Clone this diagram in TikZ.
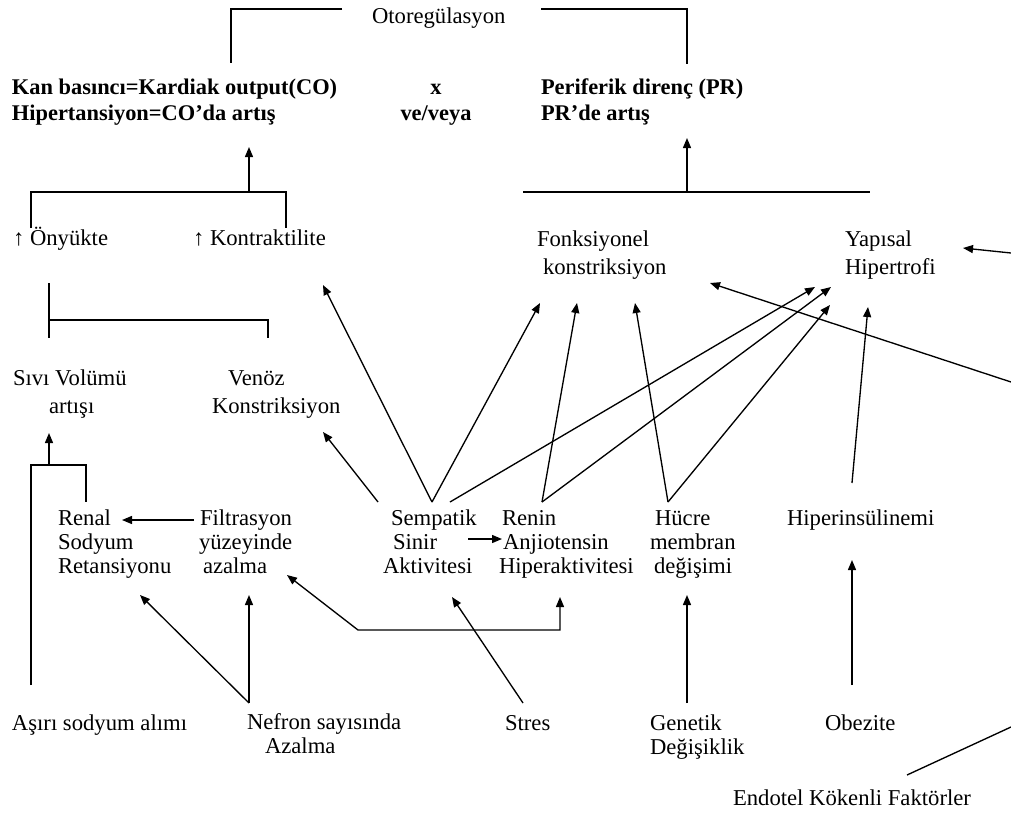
\documentclass[tikz,border=0pt]{standalone}
\usepackage{fontspec}
\setmainfont{Liberation Serif}
\usetikzlibrary{arrows.meta}
\newdimen\pxunit \pxunit=0.75pt
\newcommand{\ind}[1]{\hspace*{#1\pxunit}}
\tikzset{
  txt/.style={inner sep=0pt, outer sep=0pt, anchor=base west, align=left,
    font=\fontsize{17}{18}\selectfont},
  boldtxt/.style={txt, font=\fontsize{16.8}{19.5}\selectfont\bfseries},
  conn/.style={line width=1pt, line join=miter},
  arr/.style={conn, -{Triangle[length=7.5pt,width=6pt]}},
  darr/.style={conn, {Triangle[length=7.5pt,width=6pt]}-{Triangle[length=7.5pt,width=6pt]}},
}
\begin{document}
\begin{tikzpicture}[x=0.75pt, y=-0.75pt]
\useasboundingbox[fill=white] (0,0) rectangle (1011,815);

% ---- text nodes (multi-line nodes are placed by the baseline of their last line) ----
\node[txt] (oto) at (372,23) {Otoregülasyon};
\node[boldtxt] (kan) at (12,120) {Kan basıncı=Kardiak output(CO)\\Hipertansiyon=CO’da artış};
\node[boldtxt, align=center, anchor=base] (xv) at (436,120) {x\\ve/veya};
\node[boldtxt] (per) at (541,120) {Periferik direnç (PR)\\PR’de artış};
\node[txt] (ony) at (13,245) {↑ Önyükte};
\node[txt] (kont) at (193,245) {↑ Kontraktilite};
\node[txt, font=\fontsize{17}{20.3}\selectfont] (fonk) at (537,274) {Fonksiyonel\\\ind{6}konstriksiyon};
\node[txt, font=\fontsize{17}{20.3}\selectfont] (yap) at (845,274) {Yapısal\\Hipertrofi};
\node[txt, font=\fontsize{17}{21}\selectfont] (siv) at (13,413) {Sıvı Volümü\\\ind{36}artışı};
\node[txt, font=\fontsize{17}{21}\selectfont] (ven) at (212,413) {\ind{16}Venöz\\Konstriksiyon};
\node[txt] (ren) at (58,573) {Renal\\Sodyum\\Retansiyonu};
\node[txt] (filt) at (199,573) {\ind{1}Filtrasyon\\yüzeyinde\\\ind{4}azalma};
\node[txt] (semp) at (383,573) {\ind{8}Sempatik\\\ind{10}Sinir\\Aktivitesi};
\node[txt] (renin) at (499,573) {\ind{3}Renin\\\ind{4}Anjiotensin\\Hiperaktivitesi};
\node[txt] (hucre) at (650,573) {\ind{5}Hücre\\membran\\\ind{4}değişimi};
\node[txt] (hins) at (787,525) {Hiperinsülinemi};
\node[txt] (asiri) at (12,730) {Aşırı sodyum alımı};
\node[txt, font=\fontsize{17}{17.3}\selectfont] (nef) at (247,753) {Nefron sayısında\\\ind{18}Azalma};
\node[txt] (stres) at (505,730) {Stres};
\node[txt] (gen) at (650,754) {Genetik\\Değişiklik};
\node[txt] (obez) at (825,730) {Obezite};
\node[txt] (endo) at (733,805) {Endotel Kökenli Faktörler};

% ---- connector end points ----
\coordinate (otoL) at (342,9);   \coordinate (otoLc) at (231,9);  \coordinate (kanT) at (231,63);
\coordinate (otoR) at (541,9);   \coordinate (otoRc) at (687,9);  \coordinate (perT) at (687,64);
\coordinate (onyT) at (31,228);  \coordinate (onyC) at (31,192);
\coordinate (kontC) at (286,192); \coordinate (kontT) at (286,228);
\coordinate (coJ) at (249,192);  \coordinate (kanB) at (249,147);
\coordinate (prL) at (523,192);  \coordinate (prR) at (870,192);
\coordinate (prJ) at (687,192);  \coordinate (perB) at (687,138);
\coordinate (onyB) at (49,283);  \coordinate (sivT) at (49,338);
\coordinate (brJ) at (49,320);   \coordinate (brC) at (268,320);  \coordinate (venT) at (268,338);
\coordinate (asiriT) at (31,685); \coordinate (asiriC) at (31,465);
\coordinate (sivJ) at (49,465);  \coordinate (sivB) at (49,433);
\coordinate (renC) at (86,465);  \coordinate (renT) at (86,502);
\coordinate (filtL) at (194,520); \coordinate (renR) at (122,520);
\coordinate (nefT) at (249,703); \coordinate (filtB) at (249,595); \coordinate (renB) at (140,595);
\coordinate (filtBR) at (287,575); \coordinate (lnkA) at (358,630); \coordinate (lnkB) at (560,630); \coordinate (reninB) at (560,597);
\coordinate (stresT) at (523,703); \coordinate (sempB) at (452,597);
\coordinate (sempTL) at (378,502); \coordinate (venBR) at (323,432);
\coordinate (sempT) at (432,502);  \coordinate (kontB) at (323,285);
\coordinate (fonkB1) at (540,303);
\coordinate (sempTR) at (450,502); \coordinate (yapB1) at (815,287);
\coordinate (sempR) at (468,539);  \coordinate (reninL) at (502,539);
\coordinate (reninT) at (542,502); \coordinate (fonkB2) at (577,303); \coordinate (yapB2) at (831,287);
\coordinate (hucreT) at (668,502); \coordinate (fonkB3) at (635,303); \coordinate (yapB3) at (830,305);
\coordinate (genT) at (687,703);   \coordinate (hucreB) at (687,595);
\coordinate (hinsT) at (852,483);  \coordinate (yapB4) at (868,307);
\coordinate (obezT) at (852,685);  \coordinate (hinsB) at (852,560);
\coordinate (endoT) at (907,775);  \coordinate (edgeE) at (1011,727);
\coordinate (edgeY) at (1011,253); \coordinate (yapR) at (963,248);
\coordinate (edgeF) at (1011,382); \coordinate (fonkBR) at (710,283);

% ---- connectors ----
\draw[conn] (otoL) -- (otoLc) -- (kanT);
\draw[conn] (otoR) -- (otoRc) -- (perT);
\draw[conn] (onyT) -- (onyC) -- (kontC) -- (kontT);
\draw[arr] (coJ) -- (kanB);
\draw[conn] (prL) -- (prR);
\draw[arr] (prJ) -- (perB);
\draw[conn] (onyB) -- (sivT);
\draw[conn] (brJ) -- (brC) -- (venT);
\draw[conn] (asiriT) -- (asiriC) -- (renC) -- (renT);
\draw[arr] (sivJ) -- (sivB);
\draw[arr] (filtL) -- (renR);
\draw[arr] (nefT) -- (filtB);
\draw[arr] (nefT) -- (renB);
\draw[darr] (filtBR) -- (lnkA) -- (lnkB) -- (reninB);
\draw[arr] (stresT) -- (sempB);
\draw[arr] (sempTL) -- (venBR);
\draw[arr] (sempT) -- (kontB);
\draw[arr] (sempT) -- (fonkB1);
\draw[arr] (sempTR) -- (yapB1);
\draw[arr] (sempR) -- (reninL);
\draw[arr] (reninT) -- (fonkB2);
\draw[arr] (reninT) -- (yapB2);
\draw[arr] (hucreT) -- (fonkB3);
\draw[arr] (hucreT) -- (yapB3);
\draw[arr] (genT) -- (hucreB);
\draw[arr] (hinsT) -- (yapB4);
\draw[arr] (obezT) -- (hinsB);
\draw[conn] (endoT) -- (edgeE);
\draw[arr] (edgeY) -- (yapR);
\draw[arr] (edgeF) -- (fonkBR);
\end{tikzpicture}
\end{document}
